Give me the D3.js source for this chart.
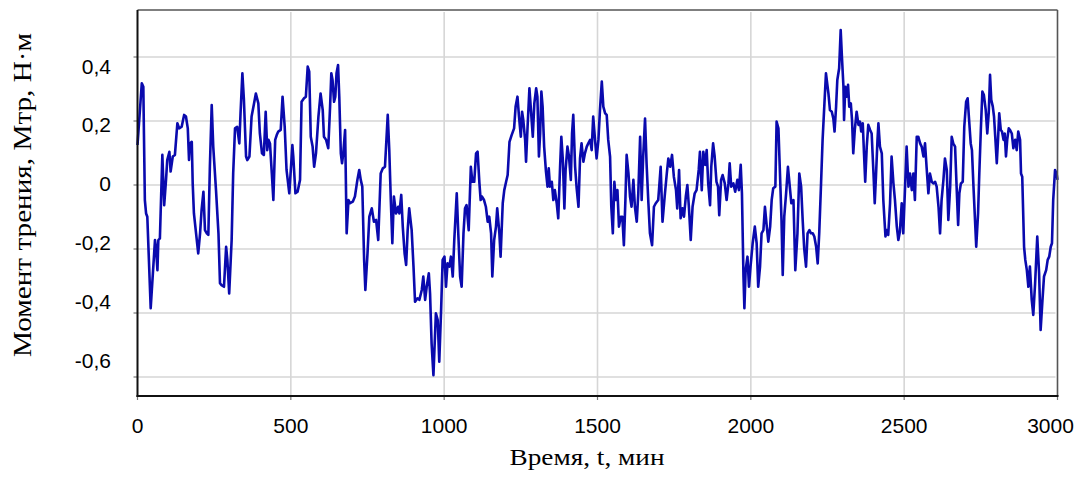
<!DOCTYPE html>
<html><head><meta charset="utf-8">
<script src="https://cdn.jsdelivr.net/npm/d3@7"></script>
<style>body{margin:0;background:#fff}svg{display:block}</style>
</head><body>
<svg id="c" width="1084" height="482"></svg>
<script>
// time, minutes
const times = [0,14,19,21,24,28,32,43,57,60,65,68,73,81,87,93,97,104,108,115,122,130,136,144,152,158,164,168,171,177,180,184,191,198,204,209,215,220,226,231,236,242,247,256,264,269,274,282,289,293,299,307,312,318,325,332,336,342,347,354,358,365,372,380,386,394,399,406,412,418,423,427,432,438,443,449,454,459,467,473,480,486,495,502,505,508,515,522,530,535,543,549,555,560,565,571,576,582,590,597,604,608,615,622,628,632,636,641,645,649,654,658,663,667,671,677,682,688,693,702,709,717,723,728,733,739,743,750,756,764,771,778,785,793,800,807,816,821,826,831,836,843,850,854,860,865,871,876,881,886,894,900,905,913,919,927,932,938,943,950,954,959,965,973,979,984,990,995,1001,1006,1011,1017,1022,1028,1033,1041,1046,1052,1057,1063,1068,1073,1080,1087,1092,1098,1104,1109,1115,1119,1123,1130,1136,1142,1147,1153,1157,1163,1169,1173,1180,1184,1191,1196,1202,1207,1213,1220,1228,1233,1239,1244,1250,1254,1258,1264,1267,1272,1278,1283,1289,1294,1300,1304,1309,1313,1317,1321,1326,1332,1337,1341,1345,1351,1356,1361,1367,1372,1378,1382,1387,1392,1396,1402,1407,1413,1417,1421,1427,1432,1438,1443,1448,1454,1459,1465,1470,1476,1481,1486,1492,1497,1503,1508,1514,1519,1525,1530,1535,1541,1545,1550,1555,1560,1565,1570,1576,1581,1586,1591,1595,1601,1606,1611,1617,1622,1628,1633,1639,1644,1649,1655,1660,1666,1671,1678,1684,1690,1698,1706,1712,1719,1726,1731,1737,1743,1749,1756,1760,1766,1771,1777,1782,1788,1793,1798,1804,1810,1817,1823,1830,1834,1840,1845,1851,1856,1861,1867,1871,1877,1882,1888,1893,1897,1903,1908,1915,1921,1927,1931,1936,1943,1949,1956,1961,1967,1971,1976,1979,1983,1989,1994,1999,2006,2013,2019,2024,2030,2035,2041,2046,2052,2057,2063,2068,2073,2080,2084,2090,2095,2100,2104,2109,2115,2121,2127,2132,2139,2145,2152,2158,2164,2169,2174,2180,2185,2191,2196,2202,2207,2213,2218,2223,2229,2234,2240,2245,2253,2258,2264,2269,2273,2278,2282,2288,2293,2297,2302,2304,2308,2313,2317,2321,2326,2330,2334,2339,2345,2351,2356,2360,2365,2369,2373,2378,2383,2389,2394,2400,2404,2408,2413,2416,2421,2427,2432,2439,2443,2448,2454,2459,2465,2470,2476,2481,2486,2492,2497,2503,2508,2514,2519,2525,2530,2535,2541,2546,2552,2557,2563,2568,2573,2579,2584,2590,2595,2601,2606,2612,2617,2622,2628,2633,2639,2644,2650,2655,2660,2666,2671,2676,2680,2685,2691,2696,2702,2707,2711,2717,2721,2726,2731,2735,2741,2745,2750,2755,2760,2766,2771,2776,2780,2784,2789,2793,2797,2802,2806,2810,2815,2819,2824,2828,2832,2836,2841,2845,2851,2856,2862,2867,2872,2878,2881,2885,2891,2895,2900,2905,2910,2916,2921,2927,2934,2940,2945,2951,2956,2963,2968,2973,2978,2982,2986,2992,2997,3000];
// friction torque, N·m
const torque = [0.125,0.318,0.307,0.161,-0.047,-0.089,-0.099,-0.385,-0.172,-0.193,-0.266,-0.172,-0.167,0.094,-0.063,0.016,0.078,0.104,0.042,0.089,0.094,0.193,0.177,0.182,0.219,0.214,0.177,0.078,0.130,0.135,0.005,-0.089,-0.151,-0.214,-0.151,-0.078,-0.021,-0.141,-0.151,-0.156,0.057,0.250,0.120,-0.016,-0.151,-0.307,-0.313,-0.318,-0.193,-0.234,-0.339,-0.172,0.036,0.177,0.182,0.130,0.224,0.349,0.266,0.089,0.078,0.089,0.214,0.255,0.286,0.255,0.161,0.099,0.094,0.229,0.109,0.141,0.130,0.036,-0.047,0.141,0.156,0.167,0.172,0.276,0.182,0.047,-0.026,0.078,0.125,0.089,-0.026,-0.021,0.016,0.260,0.271,0.276,0.370,0.354,0.151,0.120,0.057,0.099,0.214,0.286,0.234,0.151,0.141,0.115,0.245,0.349,0.328,0.260,0.276,0.349,0.375,0.276,0.099,0.068,0.099,0.172,-0.151,-0.047,-0.057,-0.052,-0.036,0.016,0.047,0.016,-0.005,-0.234,-0.328,-0.214,-0.099,-0.073,-0.115,-0.109,-0.172,0.036,0.052,0.057,0.219,0.109,-0.047,-0.182,-0.036,-0.089,-0.068,-0.089,-0.031,-0.130,-0.214,-0.250,-0.141,-0.073,-0.141,-0.255,-0.365,-0.354,-0.359,-0.328,-0.286,-0.359,-0.318,-0.276,-0.339,-0.495,-0.594,-0.401,-0.422,-0.552,-0.391,-0.234,-0.224,-0.318,-0.245,-0.255,-0.224,-0.286,-0.172,-0.026,-0.151,-0.286,-0.318,-0.151,-0.073,-0.063,-0.141,0.057,0.010,0.010,0.099,0.104,0.005,-0.047,-0.036,-0.047,-0.068,-0.115,-0.099,-0.151,-0.286,-0.172,-0.130,-0.073,-0.151,-0.224,-0.057,-0.016,0.010,0.031,0.135,0.156,0.177,0.245,0.276,0.214,0.151,0.229,0.203,0.141,0.073,0.182,0.302,0.234,0.151,0.255,0.302,0.276,0.089,0.161,0.292,0.245,0.120,0.042,-0.005,0.052,-0.005,0.010,-0.047,-0.016,-0.057,-0.104,0.057,0.151,0.078,-0.073,0.047,0.120,0.089,0.016,0.161,0.219,0.057,-0.010,-0.068,0.083,0.130,0.073,0.099,0.120,0.130,0.141,0.109,0.214,0.141,0.083,0.141,0.234,0.323,0.245,0.224,0.219,0.141,0.089,-0.068,-0.151,0.010,-0.047,-0.016,-0.130,-0.099,-0.099,-0.188,-0.047,0.094,0.036,-0.036,-0.068,0.016,-0.068,-0.115,-0.026,0.151,-0.047,0.089,0.208,0.068,-0.057,-0.151,-0.188,-0.068,-0.057,-0.047,0.057,-0.115,-0.036,0.036,0.083,0.057,0.094,0.026,-0.016,-0.073,0.047,-0.104,-0.073,-0.099,-0.036,0.000,-0.068,-0.172,-0.068,-0.026,-0.016,0.047,0.104,-0.016,0.104,0.063,0.109,0.005,-0.063,0.057,0.130,0.089,0.010,-0.005,-0.094,0.016,0.031,0.005,-0.047,0.005,0.068,-0.005,0.005,-0.021,0.016,-0.016,0.063,-0.026,-0.286,-0.385,-0.266,-0.224,-0.318,-0.255,-0.182,-0.130,-0.182,-0.318,-0.255,-0.151,-0.141,-0.068,-0.130,-0.177,-0.130,-0.047,-0.010,-0.005,0.198,0.177,0.036,-0.109,-0.281,-0.099,-0.026,0.057,-0.005,-0.057,-0.047,-0.266,-0.151,0.036,-0.005,-0.109,-0.198,-0.255,-0.151,-0.141,-0.151,-0.151,-0.161,-0.193,-0.245,-0.151,0.005,0.141,0.255,0.349,0.286,0.234,0.229,0.208,0.167,0.245,0.328,0.365,0.484,0.401,0.307,0.203,0.307,0.276,0.313,0.245,0.255,0.203,0.099,0.172,0.229,0.188,0.198,0.167,0.193,0.099,0.010,0.120,0.188,0.172,0.161,0.036,-0.057,0.026,0.141,0.193,0.120,0.099,-0.047,-0.161,-0.141,-0.156,-0.057,0.089,0.005,-0.047,-0.130,-0.172,-0.146,-0.057,-0.151,-0.005,0.120,-0.005,0.036,-0.016,0.036,-0.047,0.151,0.151,0.130,0.120,0.089,0.130,0.057,-0.026,0.036,0.010,0.005,0.010,-0.005,-0.068,-0.151,-0.047,0.016,0.083,0.047,-0.109,-0.005,0.151,0.130,0.120,-0.005,-0.125,-0.026,0.005,0.010,0.182,0.260,0.271,0.214,0.130,0.109,-0.005,-0.109,-0.193,-0.089,0.036,0.172,0.292,0.281,0.234,0.161,0.229,0.344,0.266,0.245,0.214,0.151,0.068,0.141,0.224,0.172,0.167,0.141,0.161,0.089,0.141,0.177,0.172,0.161,0.115,0.141,0.109,0.167,0.141,0.036,0.026,-0.193,-0.234,-0.266,-0.318,-0.255,-0.359,-0.406,-0.307,-0.161,-0.276,-0.453,-0.359,-0.286,-0.266,-0.234,-0.224,-0.193,-0.182,-0.047,0.047,0.036,0.016];

const xTicks = [0, 500, 1000, 1500, 2000, 2500, 3000];
const yTicks = [0.4, 0.2, 0, -0.2, -0.4, -0.6];
const xTitle = "Время, t, мин";
const yTitle = "Момент трения, Мтр, Н·м";

const svg = d3.select("#c");
const L = 137.5, R = 1057.5, T = 10, B = 396;
const x = d3.scaleLinear().domain([0, 3000]).range([L, R]);
const y = d3.scaleLinear().domain([-0.6, 0.4]).range([377, 57]);
// label positions in the original are slightly compressed vs gridlines
const yLab = d3.scaleLinear().domain([-0.6, 0.4]).range([360, 66]);

// grid
svg.append("g").selectAll("line").data(yTicks).join("line")
  .attr("x1", L).attr("x2", R - 2).attr("y1", d => y(d)).attr("y2", d => y(d))
  .attr("stroke", "#d6d6d6").attr("stroke-width", 1.6);
svg.append("g").selectAll("line").data(xTicks.filter(d => d > 0 && d < 3000)).join("line")
  .attr("x1", d => x(d)).attr("x2", d => x(d)).attr("y1", T + 2).attr("y2", B)
  .attr("stroke", "#d6d6d6").attr("stroke-width", 1.6);

// ticks
svg.append("g").selectAll("line").data(yTicks).join("line")
  .attr("x1", L - 4).attr("x2", L).attr("y1", d => y(d)).attr("y2", d => y(d))
  .attr("stroke", "#777").attr("stroke-width", 1.2);
svg.append("g").selectAll("line").data(xTicks).join("line")
  .attr("x1", d => x(d)).attr("x2", d => x(d)).attr("y1", B).attr("y2", B + 4)
  .attr("stroke", "#777").attr("stroke-width", 1.2);

// line
const line = d3.line().x((d, i) => x(times[i])).y(d => y(d));
svg.append("path").datum(torque).attr("d", line)
  .attr("fill", "none").attr("stroke", "#0a0aae").attr("stroke-width", 2.6)
  .attr("stroke-linejoin", "round");

// frame
svg.append("line").attr("x1", L).attr("x2", R).attr("y1", T).attr("y2", T).attr("stroke", "#555").attr("stroke-width", 1.6);
svg.append("line").attr("x1", R).attr("x2", R).attr("y1", T).attr("y2", B).attr("stroke", "#555").attr("stroke-width", 1.6);
svg.append("line").attr("x1", L).attr("x2", L).attr("y1", T).attr("y2", B + 1).attr("stroke", "#111").attr("stroke-width", 2);
svg.append("line").attr("x1", L - 1).attr("x2", R + 1).attr("y1", B).attr("y2", B).attr("stroke", "#111").attr("stroke-width", 2);

// tick labels
const fmt = d => d3.format(".1f")(d).replace(".", ",").replace("−", "-");
svg.append("g").selectAll("text").data(yTicks).join("text")
  .attr("x", 111).attr("y", d => yLab(d)).attr("dy", "0.36em")
  .attr("text-anchor", "end")
  .style("font-family", "'Liberation Sans', Arial, sans-serif").style("font-size", "21px").attr("fill", "#000")
  .text(d => d === 0 ? "0" : fmt(d));
svg.append("g").selectAll("text").data(xTicks).join("text")
  .attr("x", d => x(d) + (d === 3000 ? -7 : 0)).attr("y", 433)
  .attr("text-anchor", "middle")
  .style("font-family", "'Liberation Sans', Arial, sans-serif").style("font-size", "21px").attr("fill", "#000")
  .text(d => d);

// axis titles
svg.append("text").attr("x", 587).attr("y", 465).attr("text-anchor", "middle")
  .attr("textLength", 155).attr("lengthAdjust", "spacingAndGlyphs")
  .style("font-family", "'Liberation Serif', 'Times New Roman', serif").style("font-size", "23px").attr("fill", "#000")
  .text(xTitle);
svg.append("text").attr("transform", "translate(31,195) rotate(-90)").attr("text-anchor", "middle")
  .attr("textLength", 324).attr("lengthAdjust", "spacingAndGlyphs")
  .style("font-family", "'Liberation Serif', 'Times New Roman', serif").style("font-size", "25px").attr("fill", "#000")
  .text(yTitle);
</script>
</body></html>
